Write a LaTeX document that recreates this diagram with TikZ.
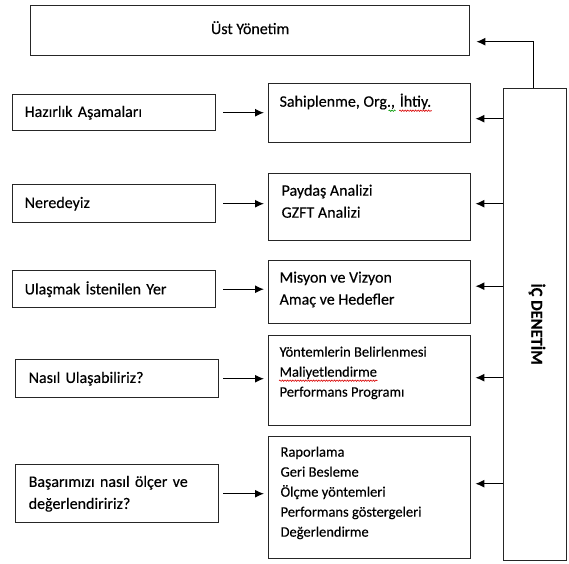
\documentclass[tikz,border=0pt]{standalone}
\usepackage{fontspec}
\setmainfont[FakeBold=0.3]{Carlito}
\usepackage{tikz}
\usetikzlibrary{arrows.meta,decorations.pathmorphing}

\begin{document}
\begin{tikzpicture}[
		%Global config
		x=1pt, y=-1pt,
		>={Latex[length=9pt,width=8pt]},
		line width=1.2pt,
		color = black,
		font=\fontsize{16}{22}\selectfont,
		%Styles
		Box/.style={
			draw=black!85,
			line width=1.4pt,
			anchor=north west,
			inner sep=0pt,
		},
		Step/.style={
			Box,
			align=left,
			inner xsep=12pt,
			minimum height=36pt,
		},
		Items/.style={
			anchor=north west,
			inner sep=0pt,
			align=left,
		},
		Word/.style={
			anchor=base west,
			inner sep=0pt,
		},
		Link/.style={
			->,
			shorten >=4pt,
		},
		Wave/.style={
			line width=0.6pt,
			decorate,
			decoration={snake, amplitude=0.7pt, segment length=2.6pt},
			}
		]

		\useasboundingbox (0,0) rectangle (569,563);

		% top and side boxes
		\node[Box, minimum width=439pt, minimum height=50pt] (ust) at (30,5) {};
		\node (ustT) at ([yshift=3pt]ust.center) {Üst Yönetim};
		\node[Box, minimum width=63pt, minimum height=472pt] (ic) at (503,88) {};
		\node[font=\bfseries\fontsize{16.5}{16.5}\selectfont, rotate=-90] (icT) at (537,324) {İÇ DENETİM};

		% left column
		\node[Step, text width=179pt, minimum height=36pt] (hazirlik) at (12,94) {Hazırlık Aşamaları};
		\node[Step, text width=179pt, minimum height=38pt] (nerede) at (12,184) {Neredeyiz};
		\node[Step, text width=179pt, minimum height=37pt] (ulasmak) at (12,270) {Ulaşmak İstenilen Yer};
		\node[Step, text width=177pt, minimum height=38pt, inner xsep=13pt] (nasil) at (15,359) {Nasıl Ulaşabiliriz?};
		\node[Step, text width=177pt, minimum height=58pt, inner xsep=13pt] (basari) at (15,464) {Başarımızı nasıl ölçer ve\\değerlendiririz?};

		% right column
		\node[Box, minimum width=202pt, minimum height=59pt] (sahip) at (268,83) {};
		\node[Box, minimum width=202pt, minimum height=67pt] (paydas) at (268,173) {};
		\node[Box, minimum width=202pt, minimum height=63pt] (misyon) at (268,260) {};
		\node[Box, minimum width=202pt, minimum height=90pt] (yontem) at (268,335) {};
		\node[Box, minimum width=202pt, minimum height=122pt] (rapor) at (268,436) {};

		\node[Items] (sahipT) at ([xshift=11pt,yshift=-12pt]sahip.north west) {Sahiplenme, Org.,};
		\node[Word] (ihtiy) at ([xshift=3.6pt]sahipT.base east) {İhtiy.};
		\node[Items] (paydasT) at ([xshift=13pt,yshift=-11pt]paydas.north west) {Paydaş Analizi\\GZFT Analizi};
		\node[Items] (misyonT) at ([xshift=11pt,yshift=-11pt]misyon.north west) {Misyon ve Vizyon\\Amaç ve Hedefler};
		\begin{scope}[font=\fontsize{14.5}{20}\selectfont]
			\node[Items] (yontemT) at ([xshift=11pt,yshift=-11pt]yontem.north west) {Yöntemlerin Belirlenmesi};
			\node[Word] (maliyet) at ([yshift=-20pt]yontemT.base west) {Maliyetlendirme};
			\node[Word] (program) at ([yshift=-20pt]maliyet.base west) {Performans Programı};
			\node[Items] (raporT) at ([xshift=12pt,yshift=-10pt]rapor.north west) {Raporlama\\Geri Besleme\\Ölçme yöntemleri\\Performans göstergeleri\\Değerlendirme};
		\end{scope}

		% spelling marks
		\draw[Wave, red!85!black] ([yshift=-4pt]ihtiy.base west) -- ([yshift=-4pt]ihtiy.base east);
		\draw[Wave, red!85!black] ([yshift=-4pt]maliyet.base west) -- ([yshift=-4pt]maliyet.base east);
		\draw[Wave, green!60!black] ([xshift=-7pt,yshift=-4pt]sahipT.base east) -- ([yshift=-4pt]sahipT.base east);

		% arrows left to right
		\draw[Link, shorten <=7pt] (hazirlik) -- (hazirlik -| sahip.west);
		\draw[Link, shorten <=7pt] (nerede) -- (nerede -| paydas.west);
		\draw[Link, shorten <=7pt] (ulasmak) -- (ulasmak -| misyon.west);
		\draw[Link, shorten <=4pt] (nasil) -- (nasil -| yontem.west);
		\draw[Link, shorten <=4pt] (basari) -- (basari -| rapor.west);

		% arrows from ic
		\coordinate (u1) at ([yshift=-11pt]ust.east);
		\coordinate (s1) at ([yshift=-5.5pt]sahip.east);
		\coordinate (s2) at ([yshift=3.5pt]paydas.east);
		\coordinate (s3) at ([yshift=6pt]misyon.east);
		\coordinate (s4) at ([yshift=3pt]yontem.east);
		\coordinate (s5) at ([yshift=14pt]rapor.east);
		\draw[Link, shorten >=6pt] ([xshift=-2pt]ic.north) |- (u1);
		\foreach \s in {s1,s2,s3,s4,s5}
			\draw[Link] (ic.west |- \s) -- (\s);
	\end{tikzpicture}
\end{document}
